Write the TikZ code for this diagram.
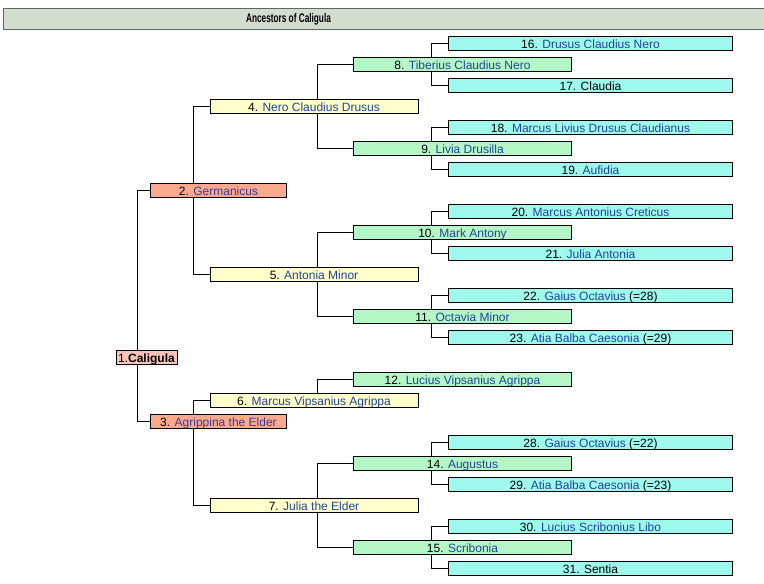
\documentclass[tikz,border=0pt]{standalone}
\usepackage{fontspec}
\setmainfont{Liberation Sans}
\newfontfamily\titlefont[FakeStretch=0.66]{Liberation Sans}
\usetikzlibrary{backgrounds}
\definecolor{lnk}{HTML}{21449A}
\definecolor{vis}{HTML}{3A3A9A}
\definecolor{cA}{HTML}{F8C4B9}
\definecolor{cB}{HTML}{F9AA8C}
\definecolor{cC}{HTML}{FFFFCC}
\definecolor{cD}{HTML}{B5F6C7}
\definecolor{cE}{HTML}{9FF8EC}
\definecolor{tbar}{HTML}{D2DDCF}
\definecolor{tline}{HTML}{5F665E}
\newcommand\nm[2]{#1. \textcolor{lnk}{#2}}
\newcommand\nv[2]{#1. \textcolor{vis}{#2}}
\tikzset{
  box/.style={draw=black, line width=0.9pt, minimum height=14pt, inner sep=0pt,
    text height=9.5pt, text depth=0pt, font=\fontsize{12}{12}\selectfont},
  gA/.style={box, fill=cA, minimum width=61pt},
  gB/.style={box, fill=cB, minimum width=136pt},
  gC/.style={box, fill=cC, minimum width=208pt},
  gD/.style={box, fill=cD, minimum width=218pt},
  gE/.style={box, fill=cE, minimum width=284pt},
  conn/.style={draw=black, line width=1pt},
}
\begin{document}
\begin{tikzpicture}[x=1pt,y=-1pt]
\useasboundingbox (0,0) rectangle (764,584);
% title
\node[draw=tline, fill=tbar, line width=0.9pt, minimum width=770pt, minimum height=20.5pt, inner sep=0pt] (tb) at (388,19) {};
\node[inner sep=0pt, font=\titlefont\bfseries\fontsize{12.5}{12.5}\selectfont] (tt) at (288.5,19.5) {Ancestors of Caligula};
% generation 1
\node[gA] (n1) at (146.5,357.5) {1.\textbf{Caligula}};
% generation 2
\node[gB] (n2) at (218.5,190.5) {\nv{2}{Germanicus}};
\node[gB] (n3) at (218.5,421.5) {\nv{3}{Agrippina the Elder}};
% generation 3
\node[gC] (n4) at (314,106.5) {\nm{4}{Nero Claudius Drusus}};
\node[gC] (n5) at (314,274.5) {\nm{5}{Antonia Minor}};
\node[gC] (n6) at (314,400.5) {\nm{6}{Marcus Vipsanius Agrippa}};
\node[gC] (n7) at (314,505.5) {\nm{7}{Julia the Elder}};
% generation 4
\node[gD] (n8) at (462.5,64.5) {\nm{8}{Tiberius Claudius Nero}};
\node[gD] (n9) at (462.5,148.5) {\nm{9}{Livia Drusilla}};
\node[gD] (n10) at (462.5,232.5) {\nm{10}{Mark Antony}};
\node[gD] (n11) at (462.5,316.5) {\nm{11}{Octavia Minor}};
\node[gD] (n12) at (462.5,379.5) {\nm{12}{Lucius Vipsanius Agrippa}};
\node[gD] (n14) at (462.5,463.5) {\nm{14}{Augustus}};
\node[gD] (n15) at (462.5,547.5) {\nm{15}{Scribonia}};
% generation 5
\node[gE] (n16) at (590.5,43.5) {\nm{16}{Drusus Claudius Nero}};
\node[gE] (n17) at (590.5,85.5) {17. Claudia};
\node[gE] (n18) at (590.5,127.5) {\nm{18}{Marcus Livius Drusus Claudianus}};
\node[gE] (n19) at (590.5,169.5) {\nm{19}{Aufidia}};
\node[gE] (n20) at (590.5,211.5) {\nm{20}{Marcus Antonius Creticus}};
\node[gE] (n21) at (590.5,253.5) {\nm{21}{Julia Antonia}};
\node[gE] (n22) at (590.5,295.5) {\nm{22}{Gaius Octavius} (=28)};
\node[gE] (n23) at (590.5,337.5) {\nm{23}{Atia Balba Caesonia} (=29)};
\node[gE] (n28) at (590.5,442.5) {\nm{28}{Gaius Octavius} (=22)};
\node[gE] (n29) at (590.5,484.5) {\nm{29}{Atia Balba Caesonia} (=23)};
\node[gE] (n30) at (590.5,526.5) {\nm{30}{Lucius Scribonius Libo}};
\node[gE] (n31) at (590.5,568.5) {31. Sentia};
% connectors
\begin{scope}[on background layer]
\draw[conn] (n2.west) -- ++(-12.5,0) |- (n3.west);
\draw[conn] (n4.west) -- ++(-16.5,0) |- (n5.west);
\draw[conn] (n6.west) -- ++(-16.5,0) |- (n7.west);
\draw[conn] (n8.west) -- ++(-35.5,0) |- (n9.west);
\draw[conn] (n10.west) -- ++(-35.5,0) |- (n11.west);
\draw[conn] (n12.west) -- ++(-35.5,0) |- (n6.center);
\draw[conn] (n14.west) -- ++(-35.5,0) |- (n15.west);
\draw[conn] (n16.west) -- ++(-16.5,0) |- (n17.west);
\draw[conn] (n18.west) -- ++(-16.5,0) |- (n19.west);
\draw[conn] (n20.west) -- ++(-16.5,0) |- (n21.west);
\draw[conn] (n22.west) -- ++(-16.5,0) |- (n23.west);
\draw[conn] (n28.west) -- ++(-16.5,0) |- (n29.west);
\draw[conn] (n30.west) -- ++(-16.5,0) |- (n31.west);
\end{scope}
\end{tikzpicture}
\end{document}
